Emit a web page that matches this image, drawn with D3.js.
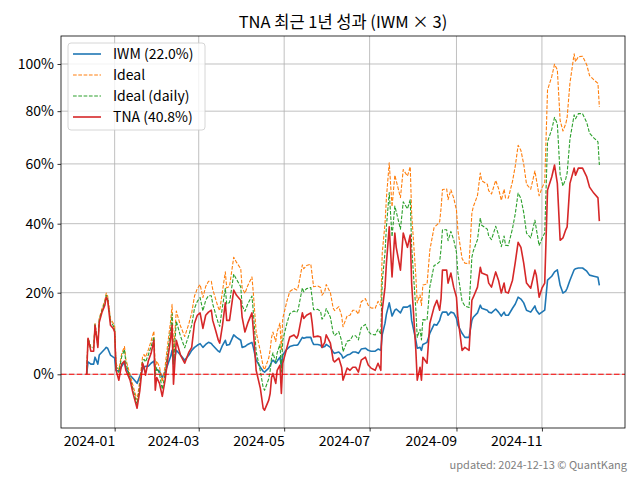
<!DOCTYPE html>
<html><head><meta charset="utf-8">
<script src="https://cdn.jsdelivr.net/npm/d3@7"></script>
<style>
body{margin:0;background:#fff}
svg{display:block}
text{font-family:"Noto Sans CJK KR","Noto Sans",sans-serif}
</style>
</head><body>
<svg id="c" width="640" height="480"></svg>
<script>
const dates = [
"2023-12-12","2023-12-13","2023-12-15","2023-12-17","2023-12-18","2023-12-20","2023-12-21","2023-12-23","2023-12-25","2023-12-26",
"2023-12-27","2023-12-29","2023-12-31","2024-01-01","2024-01-02","2024-01-04","2024-01-06","2024-01-08","2024-01-09","2024-01-12",
"2024-01-14","2024-01-17","2024-01-19","2024-01-21","2024-01-22","2024-01-23","2024-01-25","2024-01-27","2024-01-29","2024-01-30",
"2024-01-31","2024-02-02","2024-02-04","2024-02-06","2024-02-08","2024-02-10","2024-02-11","2024-02-12","2024-02-14","2024-02-17",
"2024-02-20","2024-02-23","2024-02-25","2024-02-27","2024-02-29","2024-03-02","2024-03-04","2024-03-06","2024-03-08","2024-03-10",
"2024-03-11","2024-03-13","2024-03-15","2024-03-16","2024-03-18","2024-03-20","2024-03-21","2024-03-23","2024-03-26","2024-03-28",
"2024-03-31","2024-04-01","2024-04-03","2024-04-05","2024-04-08","2024-04-09","2024-04-11","2024-04-14","2024-04-16","2024-04-17",
"2024-04-20","2024-04-21","2024-04-22","2024-04-23","2024-04-25","2024-04-26","2024-04-28","2024-04-29","2024-04-30","2024-05-03",
"2024-05-05","2024-05-08","2024-05-10","2024-05-11","2024-05-14","2024-05-15","2024-05-17","2024-05-20","2024-05-21","2024-05-22",
"2024-05-25","2024-05-27","2024-05-28","2024-05-30","2024-05-31","2024-06-03","2024-06-05","2024-06-06","2024-06-09","2024-06-11",
"2024-06-12","2024-06-15","2024-06-17","2024-06-19","2024-06-21","2024-06-23","2024-06-25","2024-06-28","2024-06-30","2024-07-02",
"2024-07-05","2024-07-07","2024-07-09","2024-07-10","2024-07-12","2024-07-13","2024-07-15","2024-07-17","2024-07-19","2024-07-20",
"2024-07-23","2024-07-25","2024-07-28","2024-07-30","2024-07-31","2024-08-03","2024-08-04","2024-08-06","2024-08-07","2024-08-08",
"2024-08-11","2024-08-13","2024-08-16","2024-08-18","2024-08-20","2024-08-21","2024-08-22","2024-08-25","2024-08-26","2024-08-28",
"2024-08-30","2024-09-01","2024-09-02","2024-09-05","2024-09-07","2024-09-10","2024-09-12","2024-09-13","2024-09-16","2024-09-18",
"2024-09-19","2024-09-23","2024-09-24","2024-09-26","2024-09-29","2024-10-01","2024-10-03","2024-10-05","2024-10-06","2024-10-08",
"2024-10-11","2024-10-13","2024-10-15","2024-10-17","2024-10-19","2024-10-21","2024-10-24","2024-10-27","2024-10-28","2024-10-30",
"2024-11-01","2024-11-03","2024-11-05","2024-11-08","2024-11-10","2024-11-12","2024-11-14","2024-11-16","2024-11-18","2024-11-19",
"2024-11-21","2024-11-24","2024-11-25","2024-11-27","2024-11-30","2024-12-03","2024-12-05","2024-12-08","2024-12-11","2024-12-12"];

// cumulative returns in percent
const iwm = [
0,2.8,2.3,2.3,3.9,2.3,4.4,5.1,5.8,6.2,
6.0,4.4,3.9,3.7,0.9,0.7,1.8,2.8,1.4,-0.2,
-0.9,-2.0,-0.4,1.1,1.6,1.8,1.8,2.5,3.0,0.9,
1.1,0.7,-0.7,0.5,2.3,4.1,5.5,2.3,5.5,4.4,
3.2,4.4,5.5,6.2,6.7,7.1,6.2,6.9,7.4,7.1,
6.7,6.0,5.3,5.1,6.7,7.9,6.7,6.9,9.2,8.6,
7.9,6.2,6.4,6.9,7.4,6.2,3.2,1.6,0.7,0.5,
1.4,2.0,2.8,3.2,2.5,3.0,3.9,1.8,4.4,5.8,
6.4,6.7,6.7,6.9,8.6,8.4,8.6,8.6,7.6,6.9,
6.9,6.7,6.2,6.4,6.9,6.2,5.1,4.8,5.1,4.4,
3.7,4.4,4.6,5.1,5.1,4.8,5.8,6.0,5.5,5.3,
5.3,5.8,5.5,9.2,12.1,14.4,17.3,13.9,15.4,15.7,
14.7,16.2,16.2,16.7,12.8,7.9,6.0,6.2,5.5,6.9,
7.4,9.6,11.8,11.6,12.8,14.1,14.9,14.9,14.1,14.9,
14.7,13.3,11.6,9.6,8.6,8.6,12.8,13.6,14.7,16.7,
15.9,15.4,14.9,14.7,15.7,14.9,13.9,14.9,14.1,14.1,
15.9,17.0,18.8,18.3,17.3,15.4,14.9,16.5,15.4,14.4,
14.9,15.4,23.4,24.5,25.7,26.3,22.0,19.9,20.4,21.2,
23.4,26.3,26.6,26.8,26.8,25.9,24.8,24.5,24.2,22.0];

const ideal = [
0,8.4,6.2,6.3,12.0,6.8,13.3,15.8,18.0,19.9,
19.1,13.2,12.1,11.3,2.5,1.0,4.7,6.4,3.4,-0.1,
-2.4,-5.6,-1.3,4.2,4.5,3.9,5.6,7.7,10.1,1.1,
3.0,1.7,-1.7,1.8,7.3,12.8,16.9,4.5,15.2,11.4,
8.8,12.0,14.7,19.1,21.1,22.2,18.7,21.7,23.1,23.1,
20.9,18.4,16.0,15.3,20.5,25.7,21.3,21.7,29.9,28.4,
26.6,21.3,19.8,21.9,24.3,19.9,9.9,5.3,1.7,1.0,
3.7,5.6,8.6,9.9,7.6,10.0,12.1,5.5,13.3,17.8,
20.3,21.1,20.7,21.5,27.7,26.6,27.5,27.9,24.8,21.6,
21.8,21.4,19.3,20.4,22.2,20.0,15.9,15.3,16.3,14.0,
11.2,14.0,14.1,15.4,15.4,14.4,17.6,18.4,16.7,16.0,
15.9,17.7,16.5,31.1,40.1,48.4,60.4,45.4,56.0,54.1,
48.4,58.0,55.7,59.0,43.3,24.5,17.3,19.4,16.6,22.1,
22.3,32.0,38.8,39.6,40.6,44.9,51.1,51.3,47.7,51.0,
48.3,44.3,37.9,29.5,28.2,28.0,43.3,45.4,49.1,56.8,
54.1,52.9,50.7,49.6,54.2,51.5,47.5,51.2,48.3,48.2,
53.9,59.3,66.8,64.9,59.9,52.9,51.2,57.5,54.6,49.0,
51.6,53.6,88.7,94.4,99.9,97.4,76.3,72.2,75.0,77.5,
91.7,104.6,101.0,103.3,103.5,99.6,94.9,93.1,91.5,81.7];

const idealDaily = [
0,8.4,6.1,6.1,11.8,6.6,13.0,15.4,17.5,19.3,
18.6,12.6,11.5,10.6,1.9,0.4,4.0,5.7,2.6,-0.9,
-3.2,-6.5,-2.3,3.1,3.4,2.8,4.4,6.4,8.7,-0.3,
1.5,0.1,-3.3,0.1,5.4,10.6,14.5,2.3,12.6,8.9,
6.1,9.2,11.6,15.9,17.7,18.7,15.2,18.0,19.2,19.2,
17.0,14.5,12.1,11.3,16.4,21.2,17.0,17.4,25.1,23.6,
21.6,16.6,15.1,17.0,19.1,14.9,5.2,0.7,-2.9,-3.5,
-1.0,0.8,3.7,4.9,2.7,4.9,6.9,0.5,7.9,12.1,
14.5,15.2,14.8,15.6,21.3,20.2,21.1,21.4,18.5,15.5,
15.6,15.1,13.1,14.1,15.8,13.6,9.7,9.0,10.0,7.8,
5.2,7.7,7.9,9.0,9.0,8.0,11.0,11.8,10.1,9.4,
9.2,10.6,9.4,23.0,31.3,39.1,50.1,36.0,45.6,43.8,
38.3,47.0,44.7,47.7,33.0,15.5,8.6,10.6,8.0,13.0,
12.9,21.6,27.5,27.9,28.6,32.4,38.1,38.1,34.8,37.6,
35.1,31.3,25.4,17.7,16.5,16.1,29.9,31.7,35.1,41.8,
39.5,38.3,36.2,35.1,39.2,36.6,33.0,36.2,33.4,33.3,
38.5,43.2,49.9,48.1,43.5,37.1,35.6,41.1,38.4,33.3,
35.4,37.1,68.1,72.8,77.5,75.0,56.2,52.3,54.7,56.8,
69.1,78.5,77.0,79.0,79.0,75.5,71.3,69.6,68.1,59.6];

const tna = [
0,8.4,5.3,5.3,11.6,6.2,12.3,14.9,16.7,18.8,
18.0,11.6,10.8,9.9,0.9,-1.3,2.3,3.0,0.9,-1.3,
-4.0,-7.3,-3.5,2.5,1.6,-0.2,3.0,4.8,7.9,-3.5,
-0.7,-2.0,-4.8,-1.3,3.7,8.4,11.6,-2.2,7.9,4.4,
2.5,5.1,6.2,12.1,14.1,14.7,10.8,14.1,14.9,15.4,
12.8,10.4,7.9,7.2,11.6,17.3,12.8,12.8,20.7,19.3,
18.0,13.6,9.9,12.1,14.7,10.4,0.9,-3.1,-7.3,-7.7,
-5.6,-4.2,-0.7,0.2,-2.0,0.9,2.1,-4.2,2.5,6.2,
8.7,9.2,8.4,9.2,14.7,13.3,14.1,14.7,12.1,8.7,
8.9,8.7,6.2,7.4,9.2,7.2,3.2,2.8,3.7,1.6,
-1.3,1.4,0.9,1.6,1.6,0.5,3.2,3.9,2.1,1.4,
0.9,2.5,0.9,15.4,21.5,28.2,39.0,24.3,37.1,32.8,
26.2,37.1,32.8,36.5,22.6,5.5,-1.3,1.6,-1.3,3.9,
2.5,12.1,16.2,18.0,15.4,18.5,26.2,26.2,22.6,25.4,
21.5,18.8,13.6,5.5,6.2,5.5,18.0,18.8,21.5,27.0,
25.4,24.8,22.6,21.5,25.7,23.4,19.9,22.6,20.2,19.9,
23.4,28.5,34.3,32.8,28.2,22.6,21.2,26.2,24.8,18.8,
21.2,22.6,50.9,55.4,59.6,53.2,34.9,35.6,38.1,39.0,
53.2,58.5,56.0,58.5,58.5,55.4,51.9,49.9,48.3,40.8];

const yTickValues = [0,20,40,60,80,100];
const xTickMonths = ["2024-01","2024-03","2024-05","2024-07","2024-09","2024-11"];
const titleText = "TNA 최근 1년 성과 (IWM × 3)";
const footerText = "updated: 2024-12-13 © QuantKang";

const svg = d3.select("#c");
const M = {l:61, t:36, r:625, b:428};
const parse = d3.timeParse("%Y-%m-%d");
const T = dates.map(parse);
const t0 = T[0], t1 = T[T.length-1];
const xpad = (t1 - t0) * 0.05;
const x = d3.scaleTime().domain([new Date(+t0 - xpad), new Date(+t1 + xpad)]).range([M.l, M.r]);

const logs = [].concat(iwm, ideal, idealDaily, tna).map(v => Math.log(1 + v/100));
const lo = d3.min(logs), hi = d3.max(logs), yp = (hi - lo) * 0.05;
const y = d3.scaleLog().domain([Math.exp(lo - yp), Math.exp(hi + yp)]).range([M.b, M.t]);

const xTicks = xTickMonths.map(s => parse(s + "-01"));

// grid
const grid = svg.append("g");
xTicks.forEach(d => grid.append("line").attr("x1", x(d)).attr("x2", x(d)).attr("y1", M.t).attr("y2", M.b)
  .attr("stroke", "#b0b0b0").attr("stroke-width", 0.8));
yTickValues.forEach(v => grid.append("line").attr("x1", M.l).attr("x2", M.r).attr("y1", y(1+v/100)).attr("y2", y(1+v/100))
  .attr("stroke", "#b0b0b0").attr("stroke-width", 0.8));

// series
const series = [
  {vals: iwm, color: "#1f77b4", w: 1.6, dash: null},
  {vals: ideal, color: "#ff7f0e", w: 1.1, dash: "3.7,1.6"},
  {vals: idealDaily, color: "#2ca02c", w: 1.1, dash: "3.7,1.6"},
  {vals: tna, color: "#d62728", w: 1.6, dash: null}
];
const line = d3.line().x((d, i) => x(T[i])).y(d => y(1 + d/100));
series.forEach(s => {
  svg.append("path").datum(s.vals).attr("d", line).attr("fill", "none")
    .attr("stroke", s.color).attr("stroke-width", s.w)
    .attr("stroke-dasharray", s.dash).attr("stroke-linejoin", "round");
});

// zero line
svg.append("line").attr("x1", M.l).attr("x2", M.r).attr("y1", y(1)).attr("y2", y(1))
  .attr("stroke", "#ff0000").attr("stroke-width", 1.1).attr("stroke-dasharray", "5.5,2.4");

// axes
const xAxis = d3.axisBottom(x).tickValues(xTicks).tickFormat(d3.timeFormat("%Y-%m")).tickSize(3.5).tickPadding(4.5);
const gx = svg.append("g").attr("transform", `translate(0,${M.b})`).call(xAxis);
gx.selectAll(".tick text").attr("text-anchor", "end");
const yAxis = d3.axisLeft(y).tickValues(yTickValues.map(v => 1 + v/100))
  .tickFormat(d => Math.round((d - 1) * 100) + "%").tickSize(3.5).tickPadding(3.5);
const gy = svg.append("g").attr("transform", `translate(${M.l},0)`).call(yAxis);
[gx, gy].forEach(g => {
  g.select(".domain").remove();
  g.selectAll(".tick line").attr("stroke", "#000").attr("stroke-width", 0.8);
  g.selectAll(".tick text").attr("fill", "#000").style("font-size", "14px")
    .style("font-family", '"Noto Sans CJK KR","Noto Sans",sans-serif');
});

// frame
svg.append("rect").attr("x", M.l).attr("y", M.t).attr("width", M.r - M.l).attr("height", M.b - M.t)
  .attr("fill", "none").attr("stroke", "#000").attr("stroke-width", 0.8);

// title
svg.append("text").attr("x", (M.l + M.r)/2).attr("y", 28).attr("text-anchor", "middle")
  .style("font-size", "16.5px").attr("fill", "#000").text(titleText);

// legend
const legend = [
  {label: `IWM (${iwm[iwm.length-1].toFixed(1)}%)`, color: "#1f77b4", w: 1.6, dash: null},
  {label: "Ideal", color: "#ff7f0e", w: 1.1, dash: "3.7,1.6"},
  {label: "Ideal (daily)", color: "#2ca02c", w: 1.1, dash: "3.7,1.6"},
  {label: `TNA (${tna[tna.length-1].toFixed(1)}%)`, color: "#d62728", w: 1.6, dash: null}
];
const lg = svg.append("g");
lg.append("rect").attr("x", 68).attr("y", 43).attr("width", 137).attr("height", 87).attr("rx", 3)
  .attr("fill", "#fff").attr("fill-opacity", 0.8).attr("stroke", "#cccccc").attr("stroke-width", 0.8);
legend.forEach((e, i) => {
  const yy = 54 + i * 21;
  lg.append("line").attr("x1", 73).attr("x2", 101).attr("y1", yy).attr("y2", yy)
    .attr("stroke", e.color).attr("stroke-width", e.w).attr("stroke-dasharray", e.dash);
  lg.append("text").attr("x", 113).attr("y", yy).attr("dy", "0.35em")
    .style("font-size", "14px").attr("fill", "#000").text(e.label);
});

// footer
svg.append("text").attr("x", 627).attr("y", 469).attr("text-anchor", "end")
  .style("font-size", "11px").attr("fill", "#808080").text(footerText);
</script>
</body></html>
